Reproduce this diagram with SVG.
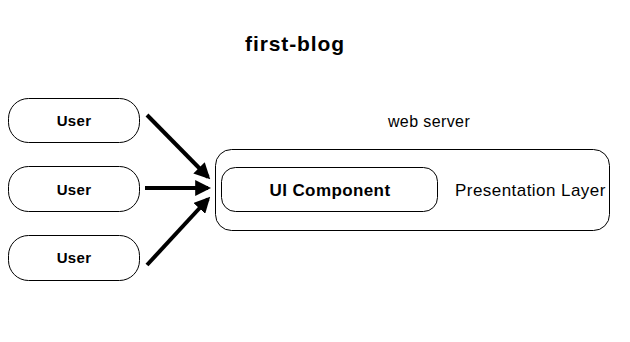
<svg xmlns="http://www.w3.org/2000/svg" width="630" height="342" viewBox="0 0 630 342">
<style>
.box{fill:#fff;stroke:#000;stroke-width:1}
.t{font-family:"Liberation Sans",Arial,sans-serif;fill:#000}
.b{font-weight:bold}
.c{stroke:#000;stroke-width:4;fill:none}
</style>
<defs>
<marker id="ah" viewBox="0 0 10 10" refX="8" refY="5" markerWidth="4" markerHeight="4" orient="auto" markerUnits="strokeWidth">
<path d="M0,0 L10,5 L0,10 z" fill="#000"/>
</marker>
</defs>
<rect width="630" height="342" fill="#fff"/>
<text class="t b" x="295" y="51" font-size="21" letter-spacing="0.9" text-anchor="middle">first-blog</text>
<g id="webserver">
<text class="t" x="429" y="127" font-size="16" letter-spacing="0.4" text-anchor="middle">web server</text>
<rect class="box" x="215.5" y="149.5" width="394" height="81" rx="16"/>
<text class="t" x="455" y="196" font-size="17" letter-spacing="0.45">Presentation Layer</text>
</g>
<g id="ui">
<rect class="box" x="221.5" y="167.5" width="216" height="44" rx="14"/>
<text class="t b" x="330" y="196" font-size="17" letter-spacing="0.4" text-anchor="middle">UI Component</text>
</g>
<g id="user1">
<rect class="box" x="8.5" y="98.5" width="131" height="44" rx="20"/>
<text class="t b" x="74" y="126" font-size="15" letter-spacing="0.3" text-anchor="middle">User</text>
</g>
<g id="user2">
<rect class="box" x="8.5" y="166.5" width="131" height="45" rx="20"/>
<text class="t b" x="74" y="195" font-size="15" letter-spacing="0.3" text-anchor="middle">User</text>
</g>
<g id="user3">
<rect class="box" x="8.5" y="235.5" width="131" height="45" rx="20"/>
<text class="t b" x="74" y="263" font-size="15" letter-spacing="0.3" text-anchor="middle">User</text>
</g>
<g id="connectors">
<line class="c" x1="147" y1="115" x2="208" y2="177" marker-end="url(#ah)"/>
<line class="c" x1="145" y1="188" x2="208" y2="188" marker-end="url(#ah)"/>
<line class="c" x1="147" y1="265" x2="208" y2="199" marker-end="url(#ah)"/>
</g>
</svg>
